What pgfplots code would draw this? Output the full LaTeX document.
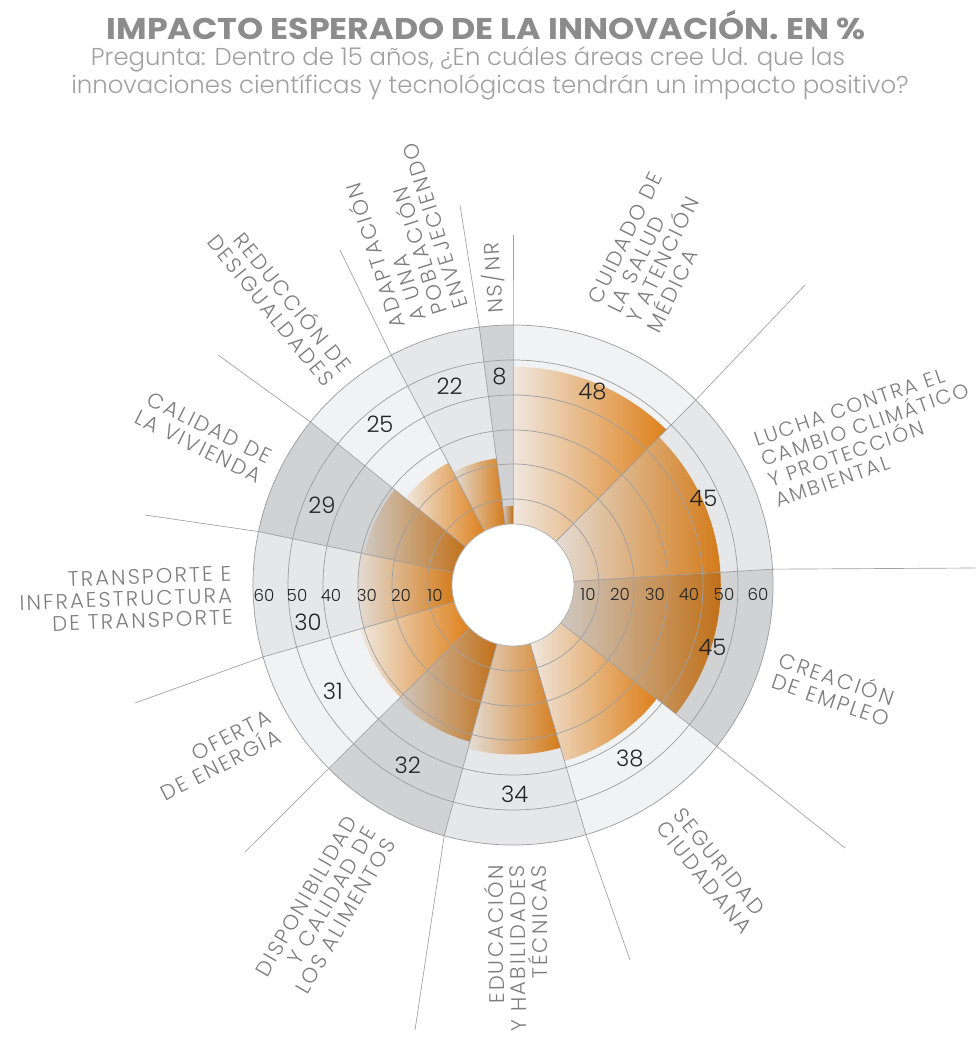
\documentclass[border=0pt]{standalone}
\usepackage{fontspec}
\setmainfont{Poppins}
\newfontfamily\labfont{Poppins}[UprightFont=* Light, LetterSpace=10]
\newfontfamily\numfont{Poppins}[UprightFont=* Light]
\newfontfamily\subfont{Poppins}[UprightFont=* Light]
\usepackage{pgfplots}
\pgfplotsset{compat=1.18}
\usepackage{pgfplotstable}
\usepgfplotslibrary{polar}

\definecolor{bgA}{RGB}{241,242,244}
\definecolor{bgB}{RGB}{230,231,233}
\definecolor{bgC}{RGB}{209,210,212}
\definecolor{orL}{RGB}{253,244,234}
\definecolor{orR}{RGB}{236,136,28}
\definecolor{gridc}{RGB}{160,160,160}
\definecolor{labc}{RGB}{125,125,125}
\definecolor{numc}{RGB}{35,35,35}
\definecolor{titc}{RGB}{140,140,140}
\definecolor{subc}{RGB}{160,160,160}

% value = share (%), start/end = sector edges in degrees (width proportional to value)
\pgfplotstableread{
id value start end bg
1 48 90.000 45.349 bgA
2 45 45.349 3.488 bgB
3 45 3.488 -38.372 bgC
4 38 -38.372 -73.721 bgA
5 34 -73.721 -105.349 bgB
6 32 -105.349 -135.116 bgC
7 31 -135.116 -163.953 bgA
8 30 -163.953 -191.860 bgB
9 29 -191.860 -218.837 bgC
10 25 -218.837 -242.093 bgA
11 22 -242.093 -262.558 bgB
12 8 -262.558 -270.000 bgC
}\datatable

\begin{document}
\begin{tikzpicture}
\begin{polaraxis}[
  hide axis, scale only axis, width=390pt, height=390pt,
  xmin=0, xmax=360, ymin=0, ymax=74.66,
  y filter/.expression={y+14.66},
  clip=false]
\coordinate (C) at (axis cs:0,0);
\pgfplotsinvokeforeach{0,...,11}{
  \pgfplotstablegetelem{#1}{start}\of\datatable \let\aS\pgfplotsretval
  \pgfplotstablegetelem{#1}{end}\of\datatable \let\aE\pgfplotsretval
  \pgfplotstablegetelem{#1}{bg}\of\datatable \let\bgc\pgfplotsretval
  \edef\doplot{\noexpand\addplot[fill=\bgc, draw=\bgc, line width=0.3pt, domain=\aE:\aS, samples=60] {60} -- (axis cs:0,0) -- cycle;}
  \doplot
}
\pgfplotsinvokeforeach{0,...,11}{
  \pgfplotstablegetelem{#1}{value}\of\datatable \let\vv\pgfplotsretval
  \pgfplotstablegetelem{#1}{start}\of\datatable \let\aS\pgfplotsretval
  \pgfplotstablegetelem{#1}{end}\of\datatable \let\aE\pgfplotsretval
  \edef\doplot{\noexpand\addplot[left color=orL, right color=orR, draw=none, blend mode=multiply, domain=\aE:\aS, samples=60] {\vv} -- (axis cs:\aS,17.3) -- (axis cs:\aE,17.3) -- cycle;}
  \doplot
}
\end{polaraxis}

\begin{scope}[shift={(C)}, x=0.75pt, y=0.75pt]
% rings
\foreach \r in {86,121,155,190,225,260}{
  \draw[gridc, line width=0.55pt] (0,0) circle[radius=\r];
}
% sector dividers
\foreach \a/\ex/\ey in {90/0/350, 45.349/292/300, 3.488/462/17, -38.372/332/-263, -73.721/117/-375, -105.349/-98/-445, -135.116/-268/-267, -163.953/-378/-118, 168.14/-368/70, 141.163/-295/230, 117.907/-173/335, 97.442/-53/380}{
  \draw[gridc, line width=0.5pt] (\a:61) -- (\a:260) -- (\ex,\ey);
}
% hole
\fill[white] (0,0) circle[radius=61];
\draw[gridc!80, line width=0.6pt] (0,0) circle[radius=61];

% ring labels
\foreach \x/\t in {75/10,107/20,142/30,176/40,211/50,245/60}{
  \node[font=\numfont\fontsize{12.5}{12.5}\selectfont, text=numc, inner sep=0] at (\x,-9) {\t};
}
\foreach \x/\t in {-78/10,-112/20,-146/30,-182/40,-216/50,-249/60}{
  \node[font=\numfont\fontsize{12.5}{12.5}\selectfont, text=numc, inner sep=0] at (\x,-10) {\t};
}
% value labels
\foreach \m/\t in {67.67/48, 24.42/45, -17.44/45, -56.05/38, -89.53/34, -120.23/32, -149.53/31, -230.47/25, -252.33/22, -266.28/8}{
  \node[font=\numfont\fontsize{17}{17}\selectfont, text=numc, inner sep=0] at (\m:209) {\t};
}
\node[font=\numfont\fontsize{17}{17}\selectfont, text=numc, inner sep=0] at (-205,-37) {30};
\node[font=\numfont\fontsize{17}{17}\selectfont, text=numc, inner sep=0] at (-191,80) {29};
% category labels
\tikzset{cat/.style={font=\labfont\fontsize{15.8}{16.4}\selectfont, text=labc, inner sep=0}}
\node[cat, rotate=64, anchor=west, align=left] at (67.67:290) {CUIDADO DE\\LA SALUD\\Y ATENCIÓN\\MÉDICA};
\node[cat, font=\labfont\fontsize{15.2}{16.2}\selectfont, rotate=19, anchor=west, align=left] at (24.42:277) {LUCHA CONTRA EL\\CAMBIO CLIMÁTICO\\Y PROTECCIÓN\\AMBIENTAL};
\node[cat, rotate=-19, anchor=west, align=left] at (-17.44:277) {CREACIÓN\\DE EMPLEO};
\node[cat, rotate=-51, anchor=west, align=left] at (-56.05:280) {SEGURIDAD\\CIUDADANA};
\node[cat, rotate=90.47, anchor=east, align=right] at (-89.53:280) {EDUCACIÓN\\Y HABILIDADES\\TÉCNICAS};
\node[cat, rotate=59.77, anchor=east, align=right] at (-120.23:282) {DISPONIBILIDAD\\Y CALIDAD DE\\LOS ALIMENTOS};
\node[cat, rotate=27, anchor=east, align=right] at (-149.53:277) {OFERTA\\DE ENERGÍA};
\node[cat, rotate=2.09, anchor=east, align=right] at (182.09:281) {TRANSPORTE E\\INFRAESTRUCTURA\\DE TRANSPORTE};
\node[cat, rotate=-26.5, anchor=east, align=right] at (154.65:274) {CALIDAD DE\\LA VIVIENDA};
\node[cat, rotate=-51, anchor=east, align=right] at (129.53:272) {REDUCCIÓN DE\\DESIGUALDADES};
\node[cat, rotate=107.67, anchor=west, align=left] at (107.67:280) {ADAPTACIÓN\\A UNA\\POBLACIÓN\\ENVEJECIENDO};
\node[cat, rotate=94, anchor=west, align=left] at (93.72:272) {NS/NR};

% titles
\node[font=\bfseries\fontsize{22.5}{22.5}\selectfont, text=titc, inner sep=0] at (-27,560) {\scalebox{1.11}[1]{IMPACTO ESPERADO DE LA INNOVACIÓN. EN \%}};
\node[font=\subfont\fontsize{18.3}{21}\selectfont, text=subc, inner sep=0] at (-45,526) {Pregunta: Dentro de 15 años, ¿En cuáles áreas cree Ud. que las};
\node[font=\subfont\fontsize{18.3}{21}\selectfont, text=subc, inner sep=0] at (-23,498) {innovaciones científicas y tecnológicas tendrán un impacto positivo?};

\pgfresetboundingbox
\path[use as bounding box] (-513,-454) rectangle (467,585);
\end{scope}
\end{tikzpicture}
\end{document}
